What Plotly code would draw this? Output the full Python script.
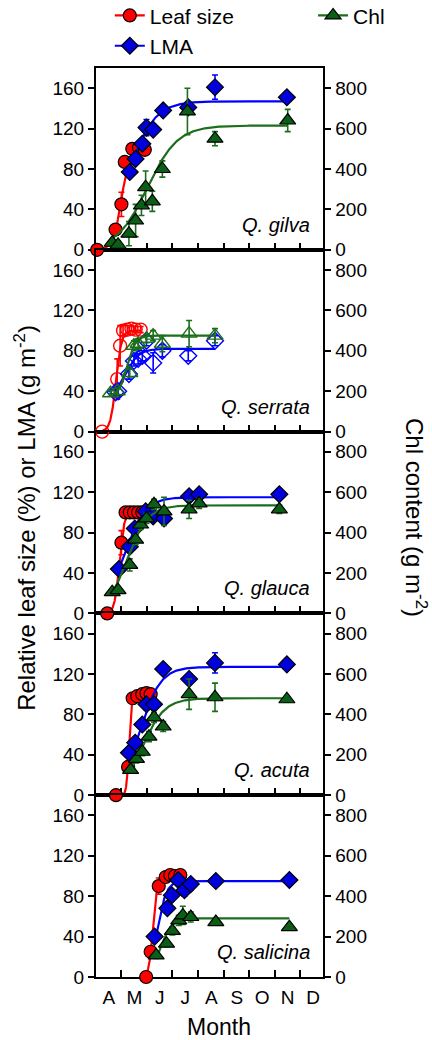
import numpy as np
import plotly.graph_objects as go
from plotly.subplots import make_subplots

# Day of year for every sampling date; values are means, *_SE are error bars.
# Leaf size in %, LMA in g m-2 (left axis), Chl content on the right axis.

GILVA_LEAF_DAY = [92, 114, 121, 125, 134, 142, 149]
GILVA_LEAF = [0, 20, 45, 87, 100, 101, 99]
GILVA_LEAF_SE = [0, 4, 12, 4, 3, 3, 4]
GILVA_LMA_DAY = [131, 138, 146, 151, 159, 171, 201, 233, 319]
GILVA_LMA = [77, 90, 105, 121, 119, 138, 141, 161, 151]
GILVA_LMA_SE = [5, 4, 5, 8, 4, 3, 4, 12, 3]
GILVA_CHL_DAY = [110, 117, 130, 138, 145, 150, 158, 170, 200, 233, 320]
GILVA_CHL = [35, 25, 80, 145, 220, 310, 240, 400, 685, 550, 640]
GILVA_CHL_SE = [15, 20, 60, 80, 50, 80, 50, 40, 115, 35, 55]

SERRATA_LEAF_DAY = [98, 116, 119.5, 123, 128, 133, 138, 144]
SERRATA_LEAF = [0, 52, 85, 100, 101, 102, 101, 101]
SERRATA_LEAF_SE = [0, 20, 20, 5, 4, 3, 3, 3]
SERRATA_LMA_DAY = [114, 117, 130, 136, 141, 146, 151, 159, 170, 201, 233]
SERRATA_LMA = [39, 40, 57, 70, 72, 75, 90, 68, 80, 75, 90]
SERRATA_LMA_SE = [4, 4, 5, 5, 5, 5, 5, 10, 6, 5, 5]
SERRATA_CHL_DAY = [108, 116, 131, 136, 141, 151, 159, 170, 202, 233]
SERRATA_CHL = [190, 200, 290, 425, 435, 460, 475, 435, 485, 475]
SERRATA_CHL_SE = [15, 15, 20, 25, 25, 20, 25, 40, 65, 35]

GLAUCA_LEAF_DAY = [104, 121, 126, 131, 136, 141, 146]
GLAUCA_LEAF = [0, 70, 100, 100, 100, 100, 100]
GLAUCA_LEAF_SE = [0, 12, 2, 2, 2, 2, 2]
GLAUCA_LMA_DAY = [118, 131, 137, 150, 159, 172, 202, 214, 310]
GLAUCA_LMA = [44, 66, 84, 101, 96, 94, 116, 118, 118]
GLAUCA_LMA_SE = [3, 4, 4, 4, 4, 3, 4, 4, 5]
GLAUCA_CHL_DAY = [110, 117, 131, 138, 144, 151, 160, 172, 202, 214, 310]
GLAUCA_CHL = [105, 115, 240, 365, 440, 470, 540, 505, 515, 545, 515]
GLAUCA_CHL_SE = [10, 10, 30, 25, 25, 25, 25, 70, 45, 25, 20]

ACUTA_LEAF_DAY = [114.5, 129, 134.5, 140, 146, 151, 156]
ACUTA_LEAF = [0, 28, 96, 98, 100, 101, 100]
ACUTA_LEAF_SE = [0, 3, 3, 3, 3, 3, 3]
ACUTA_LMA_DAY = [130, 137.5, 146, 151, 160, 171, 202, 233, 319]
ACUTA_LMA = [42, 52, 70, 90, 90, 125, 115, 131, 129.5]
ACUTA_LMA_SE = [3, 3, 4, 5, 4, 5, 4, 10, 5]
ACUTA_CHL_DAY = [132, 139, 146, 154, 160, 171, 202, 233, 319]
ACUTA_CHL = [125, 180, 215, 290, 385, 340, 500, 485, 475]
ACUTA_CHL_SE = [15, 20, 20, 25, 25, 25, 75, 70, 15]

SALICINA_LEAF_DAY = [150.6, 156, 165.7, 174, 179.5, 185, 191.5]
SALICINA_LEAF = [0, 25, 90, 99, 101, 100, 101]
SALICINA_LEAF_SE = [0, 4, 8, 3, 3, 3, 3]
SALICINA_LMA_DAY = [160.7, 176, 181.4, 189, 196.4, 204, 234, 322]
SALICINA_LMA = [40, 68, 81, 96, 86, 92, 95, 96]
SALICINA_LMA_SE = [3, 3, 4, 4, 6, 4, 3, 3]
SALICINA_CHL_DAY = [162.6, 175, 182, 189.6, 194.5, 204, 234, 322]
SALICINA_CHL = [107, 165, 228, 280, 305, 297, 272, 247]
SALICINA_CHL_SE = [15, 15, 20, 25, 45, 25, 15, 15]

# Fitted logistic curves: [lower, upper, rate (1/day), midpoint (day of year)]
GILVA_FIT = {"leaf": [0, 100, 0.2, 121], "lma": [0, 147, 0.062, 128], "chl": [0, 615, 0.055, 152]}
SERRATA_FIT = {"leaf": [0, 100, 0.3, 114.5], "lma": [30, 82, 0.12, 125], "chl": [175, 475, 0.2, 128]}
GLAUCA_FIT = {"leaf": [0, 100, 0.35, 118.5], "lma": [0, 115, 0.08, 124], "chl": [0, 535, 0.08, 128]}
ACUTA_FIT = {"leaf": [0, 100, 0.7, 130], "lma": [0, 127, 0.08, 143], "chl": [0, 480, 0.075, 146]}
SALICINA_FIT = {"leaf": [0, 100, 0.4, 159], "lma": [0, 95, 0.18, 164], "chl": [0, 290, 0.15, 168]}

SPECIES = ["Q. gilva", "Q. serrata", "Q. glauca", "Q. acuta", "Q. salicina"]
OPEN_SYMBOLS = [False, True, False, False, False]

MONTH_START = [121, 152, 182, 213, 244, 274, 305, 335]
MONTH_MID = [106, 136.5, 167, 197.5, 228.5, 259, 289.5, 320, 350.5]
MONTH_LABELS = ["A", "M", "J", "J", "A", "S", "O", "N", "D"]
LEFT_TICKS = [0, 40, 80, 120, 160]
RIGHT_TICKS = [0, 200, 400, 600, 800]

panels = [
    (GILVA_LEAF_DAY, GILVA_LEAF, GILVA_LEAF_SE, GILVA_LMA_DAY, GILVA_LMA, GILVA_LMA_SE,
     GILVA_CHL_DAY, GILVA_CHL, GILVA_CHL_SE, GILVA_FIT),
    (SERRATA_LEAF_DAY, SERRATA_LEAF, SERRATA_LEAF_SE, SERRATA_LMA_DAY, SERRATA_LMA, SERRATA_LMA_SE,
     SERRATA_CHL_DAY, SERRATA_CHL, SERRATA_CHL_SE, SERRATA_FIT),
    (GLAUCA_LEAF_DAY, GLAUCA_LEAF, GLAUCA_LEAF_SE, GLAUCA_LMA_DAY, GLAUCA_LMA, GLAUCA_LMA_SE,
     GLAUCA_CHL_DAY, GLAUCA_CHL, GLAUCA_CHL_SE, GLAUCA_FIT),
    (ACUTA_LEAF_DAY, ACUTA_LEAF, ACUTA_LEAF_SE, ACUTA_LMA_DAY, ACUTA_LMA, ACUTA_LMA_SE,
     ACUTA_CHL_DAY, ACUTA_CHL, ACUTA_CHL_SE, ACUTA_FIT),
    (SALICINA_LEAF_DAY, SALICINA_LEAF, SALICINA_LEAF_SE, SALICINA_LMA_DAY, SALICINA_LMA, SALICINA_LMA_SE,
     SALICINA_CHL_DAY, SALICINA_CHL, SALICINA_CHL_SE, SALICINA_FIT),
]

RED, BLUE, GREEN = "#ff0000", "#0000ff", "#1b6e1b"
RED_FILL, BLUE_FILL, GREEN_FILL = "#ff0000", "#0000dd", "#0b5e16"


def logistic(day, p):
    lo, hi, k, x0 = p
    return lo + (hi - lo) / (1.0 + np.exp(-k * (day - x0)))


fig = make_subplots(rows=5, cols=1, shared_xaxes=True, vertical_spacing=0,
                    specs=[[{"secondary_y": True}] for _ in range(5)])

series_style = [
    ("leaf", "Leaf size", RED, RED_FILL, "circle", 13, False),
    ("lma", "LMA", BLUE, BLUE_FILL, "diamond", 13, False),
    ("chl", "Chl", GREEN, GREEN_FILL, "triangle-up", 14, True),
]

for row, panel in enumerate(panels, start=1):
    fits = panel[9]
    data = {"leaf": panel[0:3], "lma": panel[3:6], "chl": panel[6:9]}
    is_open = OPEN_SYMBOLS[row - 1]
    for key, name, lcolor, fcolor, symbol, msize, secondary in series_style:
        days, vals, se = data[key]
        curve_x = np.linspace(min(days), max(days), 200)
        fig.add_trace(go.Scatter(x=curve_x, y=logistic(curve_x, fits[key]), mode="lines",
                                 line=dict(color=lcolor, width=2.2), showlegend=False,
                                 hoverinfo="skip", cliponaxis=False),
                      row=row, col=1, secondary_y=secondary)
        if is_open:
            marker = dict(symbol=symbol + "-open", size=msize, color=lcolor,
                          line=dict(color=lcolor, width=1.4))
        else:
            marker = dict(symbol=symbol, size=msize, color=fcolor,
                          line=dict(color="black", width=1.2))
        fig.add_trace(go.Scatter(x=days, y=vals, mode="markers", marker=marker,
                                 error_y=dict(type="data", array=se, color=lcolor,
                                              thickness=1.6, width=3),
                                 showlegend=False, name=name, cliponaxis=False),
                      row=row, col=1, secondary_y=secondary)

# Legend entries (line with marker), no data of their own
for key, name, lcolor, fcolor, symbol, msize, secondary in series_style:
    fig.add_trace(go.Scatter(x=[None], y=[None], mode="lines+markers", name=name,
                             line=dict(color=lcolor, width=2.2),
                             marker=dict(symbol=symbol, size=msize, color=fcolor,
                                         line=dict(color="black", width=1.2)),
                             legend="legend2" if key == "chl" else "legend"),
                  row=1, col=1, secondary_y=secondary)

for row in range(1, 6):
    fig.update_xaxes(row=row, col=1, range=[90.6, 362.8], showline=True, linewidth=2,
                     linecolor="black", mirror=True, showgrid=False, zeroline=False,
                     tickmode="array", tickvals=MONTH_MID, ticktext=MONTH_LABELS,
                     ticks="", showticklabels=(row == 5), layer="below traces",
                     minor=dict(tickmode="array", tickvals=MONTH_START, ticks="inside",
                                ticklen=7, tickwidth=2, tickcolor="black", showgrid=False))
    fig.update_yaxes(row=row, col=1, secondary_y=False, range=[0, 180], tickmode="array",
                     tickvals=LEFT_TICKS, ticks="outside", ticklen=6, tickwidth=2,
                     tickcolor="black", showline=True, linewidth=2, linecolor="black",
                     showgrid=False, zeroline=False, layer="below traces")
    fig.update_yaxes(row=row, col=1, secondary_y=True, range=[0, 900], tickmode="array",
                     tickvals=RIGHT_TICKS, ticks="outside", ticklen=6, tickwidth=2,
                     tickcolor="black", showline=True, linewidth=2, linecolor="black",
                     showgrid=False, zeroline=False, layer="below traces")
    fig.add_annotation(row=row, col=1, xref="x domain", yref="y domain", x=0.948, y=0.137,
                       xanchor="right", yanchor="middle", showarrow=False,
                       text="<i>" + SPECIES[row - 1] + "</i>", font=dict(size=20))

fig.update_xaxes(row=5, col=1, ticklabelstandoff=2)

fig.add_annotation(xref="paper", yref="paper", x=-0.294, y=0.505, textangle=-90,
                   xanchor="center", yanchor="middle", showarrow=False,
                   text="Relative leaf size (%) or LMA (g m<sup>-2</sup>)", font=dict(size=24))
fig.add_annotation(xref="paper", yref="paper", x=1.322, y=0.505, textangle=90,
                   xanchor="center", yanchor="middle", showarrow=False,
                   text="Chl content (g m<sup>-2</sup>)", font=dict(size=24))
fig.add_annotation(xref="paper", yref="paper", x=0.51, y=-0.0547, xanchor="center",
                   yanchor="middle", showarrow=False, text="Month", font=dict(size=23))

fig.update_layout(
    width=432, height=1040,
    margin=dict(l=96, r=94, t=68, b=63, autoexpand=False),
    plot_bgcolor="white", paper_bgcolor="white",
    font=dict(family="Liberation Sans, Arial, sans-serif", size=19, color="black"),
    legend=dict(x=0.057, y=1.08, xanchor="left", yanchor="top", font=dict(size=21),
                bgcolor="rgba(0,0,0,0)", tracegroupgap=0),
    legend2=dict(x=0.897, y=1.08, xanchor="left", yanchor="top", font=dict(size=21),
                 bgcolor="rgba(0,0,0,0)"),
)

fig.write_html("out.html")
